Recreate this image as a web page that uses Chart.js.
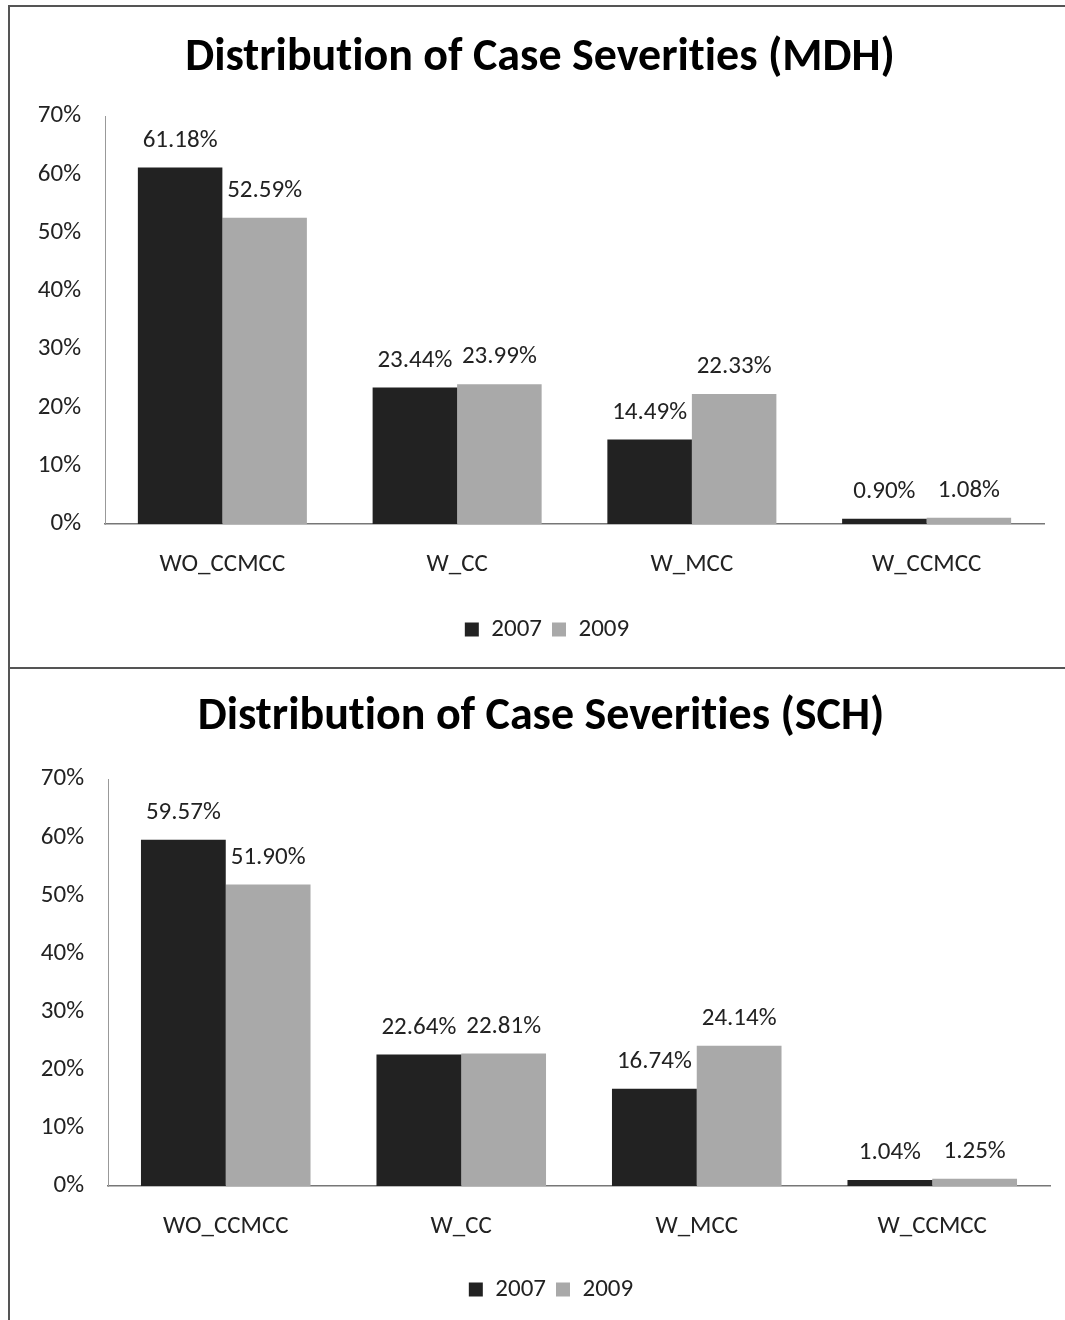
<!DOCTYPE html>
<html>
<head>
  <title>Distribution of Case Severities</title>
  <script src="https://cdn.jsdelivr.net/npm/chart.js"></script>
  <style>
    body {
      margin: 0;
      background-color: #fff;
      width: 1065px;
      height: 1320px;
      position: relative;
      overflow: hidden;
    }

    .panel {
      position: absolute;
      box-sizing: border-box;
      border-left: 2px solid #555;
      border-top: 2px solid #555;
    }

    #panelTop {
      left: 8px;
      top: 5px;
      width: 1057px;
      height: 664px;
    }

    #panelBottom {
      left: 8px;
      top: 667px;
      width: 1057px;
      height: 653px;
    }
  </style>
</head>
<body>
  <div class="panel" id="panelTop">
    <canvas id="mdhChart" width="1055" height="662"></canvas>
  </div>
  <div class="panel" id="panelBottom">
    <canvas id="schChart" width="1055" height="651"></canvas>
  </div>

  <script>
    const categories = ['WO_CCMCC', 'W_CC', 'W_MCC', 'W_CCMCC'];
    const seriesNames = ['2007', '2009'];
    const yTicks = [0, 10, 20, 30, 40, 50, 60, 70];

    const mdh2007 = [61.18, 23.44, 14.49, 0.90];
    const mdh2009 = [52.59, 23.99, 22.33, 1.08];
    const sch2007 = [59.57, 22.64, 16.74, 1.04];
    const sch2009 = [51.90, 22.81, 24.14, 1.25];

    const FONT = "Carlito, 'Open Sans', sans-serif";
    const colors = ['#222222', '#a9a9a9'];

    // no "ti" ligatures, like the original
    const noLigatures = {
      id: 'noLigatures',
      beforeDraw(chart) {
        chart.ctx.textRendering = 'optimizeSpeed';
      }
    };

    // original centres title and legend a bit right of the canvas middle
    const shiftBoxes = {
      id: 'shiftBoxes',
      afterLayout(chart, args, opts) {
        const t = chart.titleBlock, l = chart.legend;
        if (t) { t.left += opts.title; t.right += opts.title; }
        if (l) { l.left += opts.legend; l.right += opts.legend; }
      }
    };

    // simple value labels above the bars
    const valueLabels = {
      id: 'valueLabels',
      afterDatasetsDraw(chart) {
        const ctx = chart.ctx;
        ctx.save();
        ctx.font = '25px ' + FONT;
        ctx.fillStyle = '#222';
        ctx.textAlign = 'center';
        ctx.textBaseline = 'middle';
        chart.data.datasets.forEach((ds, i) => {
          chart.getDatasetMeta(i).data.forEach((bar, j) => {
            ctx.fillText(ds.data[j].toFixed(2) + '%', bar.x, bar.y - 27);
          });
        });
        ctx.restore();
      }
    };

    function makeChart(id, title, d2007, d2009, opt) {
      const ctx = document.getElementById(id).getContext('2d');
      return new Chart(ctx, {
        type: 'bar',
        data: {
          labels: categories,
          datasets: [
            { label: seriesNames[0], data: d2007, backgroundColor: colors[0] },
            { label: seriesNames[1], data: d2009, backgroundColor: colors[1] }
          ]
        },
        options: {
          responsive: false,
          animation: false,
          categoryPercentage: 0.72,
          barPercentage: 1.0,
          layout: {
            padding: { top: 0, right: opt.padRight, bottom: opt.padBottom, left: 0 }
          },
          scales: {
            x: {
              grid: { display: false, drawTicks: false },
              border: { display: true, color: '#777', width: 1.5 },
              ticks: { color: '#222', font: { family: FONT, size: 25 }, padding: 26 },
              afterFit: function(scale) { scale.height = opt.xHeight; }
            },
            y: {
              min: 0,
              max: 70,
              afterBuildTicks: function(scale) {
                scale.ticks = yTicks.map(v => ({ value: v }));
              },
              grid: { display: false, drawTicks: false },
              border: { display: true, color: '#999', dash: [2, 2] },
              ticks: {
                color: '#222',
                font: { family: FONT, size: 25 },
                padding: 24,
                callback: function(value) { return value + '%'; }
              },
              afterFit: function(scale) { scale.width = opt.yWidth; }
            }
          },
          plugins: {
            title: {
              display: true,
              text: title,
              color: '#000',
              font: { family: FONT, size: 46, weight: 'bold' },
              padding: { top: opt.titleTop, bottom: opt.titleBottom }
            },
            legend: {
              position: 'bottom',
              labels: {
                color: '#222',
                font: { family: FONT, size: 25 },
                boxWidth: 14,
                boxHeight: 14,
                padding: 10
              }
            },
            tooltip: { enabled: false },
            shiftBoxes: { title: opt.shiftTitle, legend: opt.shiftLegend }
          }
        },
        plugins: [noLigatures, shiftBoxes, valueLabels]
      });
    }

    window.onload = function() {
      makeChart('mdhChart', 'Distribution of Case Severities (MDH)', mdh2007, mdh2009,
        { padRight: 21, padBottom: 17, xHeight: 83, yWidth: 95, titleTop: 24, titleBottom: 30,
          shiftTitle: 13, shiftLegend: 20 });
      makeChart('schChart', 'Distribution of Case Severities (SCH)', sch2007, sch2009,
        { padRight: 15, padBottom: 8, xHeight: 81, yWidth: 98, titleTop: 21, titleBottom: 34,
          shiftTitle: 11, shiftLegend: 21 });
    };
  </script>
</body>
</html>
